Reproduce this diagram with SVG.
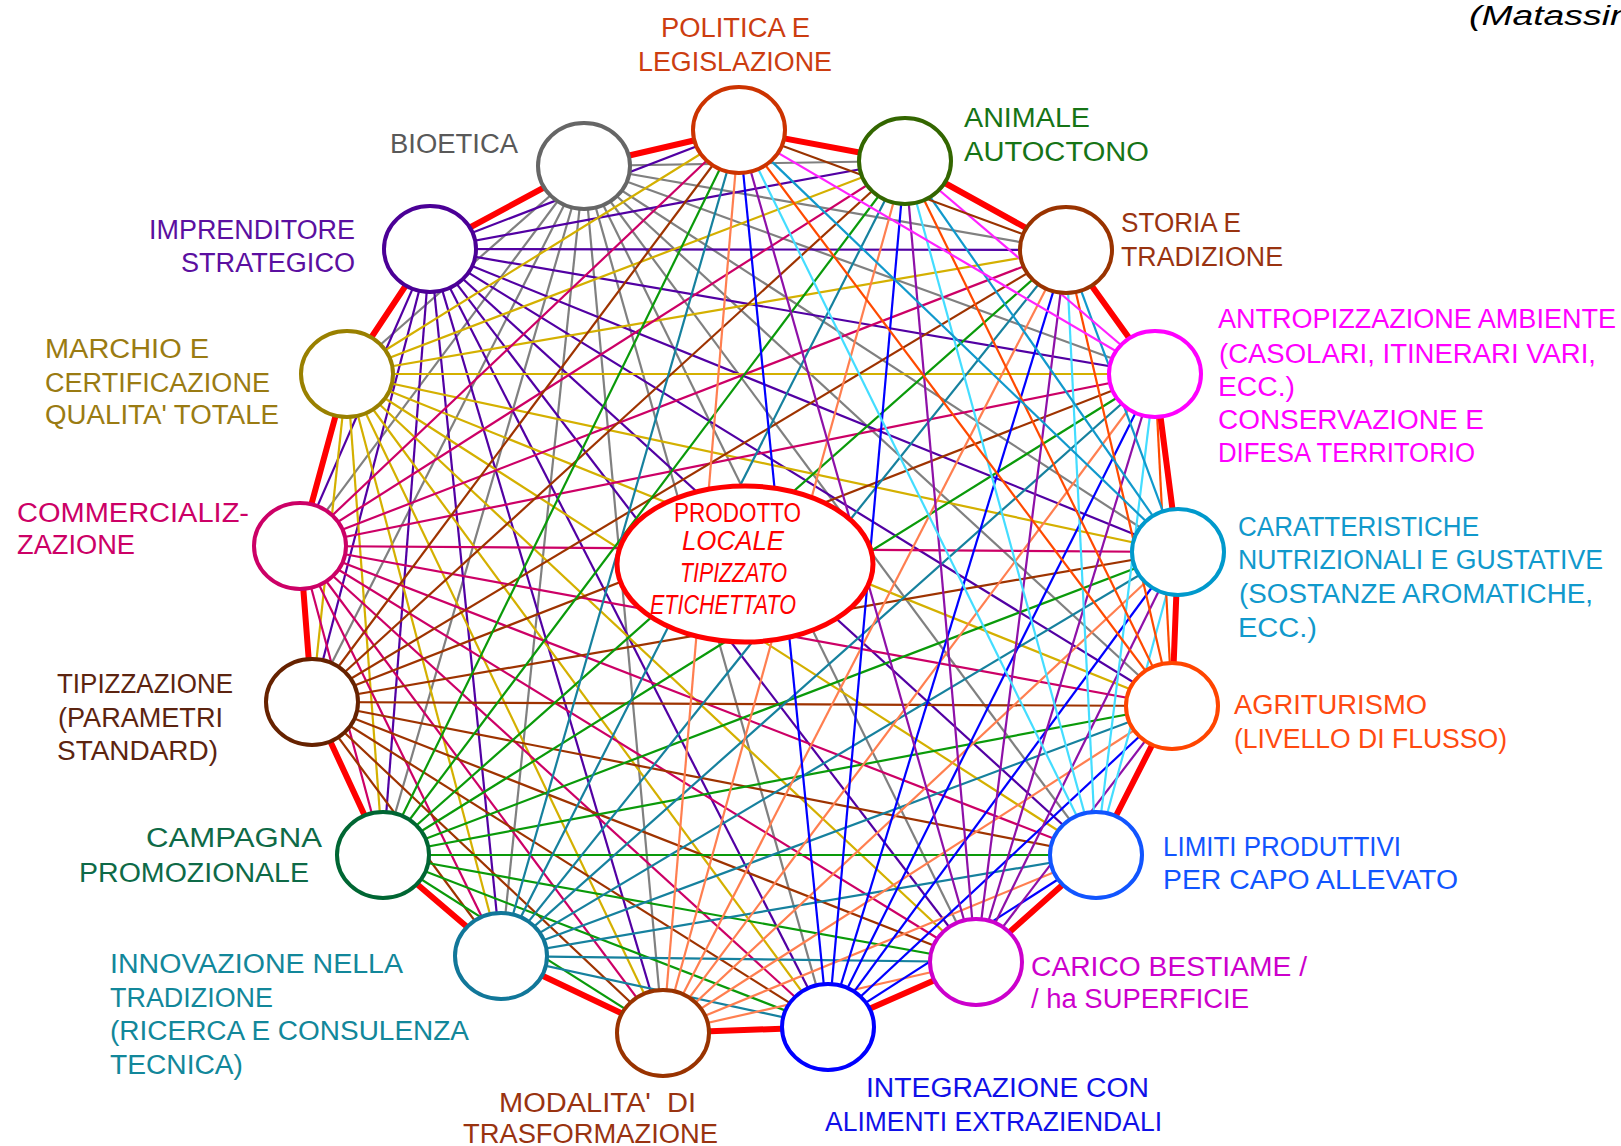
<svg xmlns="http://www.w3.org/2000/svg" width="1621" height="1146" viewBox="0 0 1621 1146">
<style>
text{font-family:"Liberation Sans","DejaVu Sans",sans-serif;font-size:27px;}
.c line{stroke-width:2.2;}
.g{stroke:#808080}.pu{stroke:#5200A3}.ye{stroke:#D4B000}.cr{stroke:#CC0066}.br{stroke:#9E3300}
.gr{stroke:#0A9A0A}.te{stroke:#16819E}.co{stroke:#FF7F50}.bl{stroke:#0000FF}.p2{stroke:#8E10A8}
.cy{stroke:#44DDFF}.or{stroke:#FF4A00}.tb{stroke:#1199CC}.mg{stroke:#FF22FF}.bs{stroke:#993300}
.node ellipse{fill:#fff;stroke-width:4;}
</style>
<rect width="1621" height="1146" fill="#fff"/>
<g id="connectors" class="c">
<line class="g" x1="584" y1="166" x2="347" y2="374"/>
<line class="g" x1="584" y1="166" x2="300" y2="546"/>
<line class="g" x1="584" y1="166" x2="312" y2="702"/>
<line class="g" x1="584" y1="166" x2="383" y2="855"/>
<line class="g" x1="584" y1="166" x2="501" y2="956"/>
<line class="g" x1="584" y1="166" x2="663" y2="1033"/>
<line class="g" x1="584" y1="166" x2="828" y2="1027"/>
<line class="g" x1="584" y1="166" x2="976" y2="962"/>
<line class="g" x1="584" y1="166" x2="1096" y2="855"/>
<line class="g" x1="584" y1="166" x2="1172" y2="706"/>
<line class="g" x1="584" y1="166" x2="1178" y2="552"/>
<line class="g" x1="584" y1="166" x2="1155" y2="374"/>
<line class="g" x1="584" y1="166" x2="1066" y2="250"/>
<line class="g" x1="584" y1="166" x2="905" y2="161"/>
<line class="pu" x1="430" y1="249" x2="300" y2="546"/>
<line class="pu" x1="430" y1="249" x2="312" y2="702"/>
<line class="pu" x1="430" y1="249" x2="383" y2="855"/>
<line class="pu" x1="430" y1="249" x2="501" y2="956"/>
<line class="pu" x1="430" y1="249" x2="663" y2="1033"/>
<line class="pu" x1="430" y1="249" x2="828" y2="1027"/>
<line class="pu" x1="430" y1="249" x2="976" y2="962"/>
<line class="pu" x1="430" y1="249" x2="1096" y2="855"/>
<line class="pu" x1="430" y1="249" x2="1172" y2="706"/>
<line class="pu" x1="430" y1="249" x2="1178" y2="552"/>
<line class="pu" x1="430" y1="249" x2="1155" y2="374"/>
<line class="pu" x1="430" y1="249" x2="1066" y2="250"/>
<line class="pu" x1="430" y1="249" x2="905" y2="161"/>
<line class="pu" x1="430" y1="249" x2="739" y2="130"/>
<line class="ye" x1="347" y1="374" x2="312" y2="702"/>
<line class="ye" x1="347" y1="374" x2="383" y2="855"/>
<line class="ye" x1="347" y1="374" x2="501" y2="956"/>
<line class="ye" x1="347" y1="374" x2="663" y2="1033"/>
<line class="ye" x1="347" y1="374" x2="828" y2="1027"/>
<line class="ye" x1="347" y1="374" x2="976" y2="962"/>
<line class="ye" x1="347" y1="374" x2="1096" y2="855"/>
<line class="ye" x1="347" y1="374" x2="1172" y2="706"/>
<line class="ye" x1="347" y1="374" x2="1178" y2="552"/>
<line class="ye" x1="347" y1="374" x2="1155" y2="374"/>
<line class="ye" x1="347" y1="374" x2="1066" y2="250"/>
<line class="ye" x1="347" y1="374" x2="905" y2="161"/>
<line class="ye" x1="347" y1="374" x2="739" y2="130"/>
<line class="cr" x1="300" y1="546" x2="383" y2="855"/>
<line class="cr" x1="300" y1="546" x2="501" y2="956"/>
<line class="cr" x1="300" y1="546" x2="663" y2="1033"/>
<line class="cr" x1="300" y1="546" x2="828" y2="1027"/>
<line class="cr" x1="300" y1="546" x2="976" y2="962"/>
<line class="cr" x1="300" y1="546" x2="1096" y2="855"/>
<line class="cr" x1="300" y1="546" x2="1172" y2="706"/>
<line class="cr" x1="300" y1="546" x2="1178" y2="552"/>
<line class="cr" x1="300" y1="546" x2="1155" y2="374"/>
<line class="cr" x1="300" y1="546" x2="1066" y2="250"/>
<line class="cr" x1="300" y1="546" x2="905" y2="161"/>
<line class="cr" x1="300" y1="546" x2="739" y2="130"/>
<line class="br" x1="312" y1="702" x2="501" y2="956"/>
<line class="br" x1="312" y1="702" x2="663" y2="1033"/>
<line class="br" x1="312" y1="702" x2="828" y2="1027"/>
<line class="br" x1="312" y1="702" x2="976" y2="962"/>
<line class="br" x1="312" y1="702" x2="1096" y2="855"/>
<line class="br" x1="312" y1="702" x2="1172" y2="706"/>
<line class="br" x1="312" y1="702" x2="1178" y2="552"/>
<line class="br" x1="312" y1="702" x2="1155" y2="374"/>
<line class="br" x1="312" y1="702" x2="1066" y2="250"/>
<line class="br" x1="312" y1="702" x2="905" y2="161"/>
<line class="br" x1="312" y1="702" x2="739" y2="130"/>
<line class="gr" x1="383" y1="855" x2="663" y2="1033"/>
<line class="gr" x1="383" y1="855" x2="828" y2="1027"/>
<line class="gr" x1="383" y1="855" x2="976" y2="962"/>
<line class="gr" x1="383" y1="855" x2="1096" y2="855"/>
<line class="gr" x1="383" y1="855" x2="1172" y2="706"/>
<line class="gr" x1="383" y1="855" x2="1178" y2="552"/>
<line class="gr" x1="383" y1="855" x2="1155" y2="374"/>
<line class="gr" x1="383" y1="855" x2="1066" y2="250"/>
<line class="gr" x1="383" y1="855" x2="905" y2="161"/>
<line class="gr" x1="383" y1="855" x2="739" y2="130"/>
<line class="te" x1="501" y1="956" x2="828" y2="1027"/>
<line class="te" x1="501" y1="956" x2="976" y2="962"/>
<line class="te" x1="501" y1="956" x2="1096" y2="855"/>
<line class="te" x1="501" y1="956" x2="1172" y2="706"/>
<line class="te" x1="501" y1="956" x2="1178" y2="552"/>
<line class="te" x1="501" y1="956" x2="1155" y2="374"/>
<line class="te" x1="501" y1="956" x2="1066" y2="250"/>
<line class="te" x1="501" y1="956" x2="905" y2="161"/>
<line class="te" x1="501" y1="956" x2="739" y2="130"/>
<line class="co" x1="663" y1="1033" x2="976" y2="962"/>
<line class="co" x1="663" y1="1033" x2="1096" y2="855"/>
<line class="co" x1="663" y1="1033" x2="1172" y2="706"/>
<line class="co" x1="663" y1="1033" x2="1178" y2="552"/>
<line class="co" x1="663" y1="1033" x2="1155" y2="374"/>
<line class="co" x1="663" y1="1033" x2="1066" y2="250"/>
<line class="co" x1="663" y1="1033" x2="905" y2="161"/>
<line class="co" x1="663" y1="1033" x2="739" y2="130"/>
<line class="bl" x1="828" y1="1027" x2="1096" y2="855"/>
<line class="bl" x1="828" y1="1027" x2="1172" y2="706"/>
<line class="bl" x1="828" y1="1027" x2="1178" y2="552"/>
<line class="bl" x1="828" y1="1027" x2="1155" y2="374"/>
<line class="bl" x1="828" y1="1027" x2="1066" y2="250"/>
<line class="bl" x1="828" y1="1027" x2="905" y2="161"/>
<line class="bl" x1="828" y1="1027" x2="739" y2="130"/>
<line class="p2" x1="976" y1="962" x2="1172" y2="706"/>
<line class="p2" x1="976" y1="962" x2="1178" y2="552"/>
<line class="p2" x1="976" y1="962" x2="1155" y2="374"/>
<line class="p2" x1="976" y1="962" x2="1066" y2="250"/>
<line class="p2" x1="976" y1="962" x2="905" y2="161"/>
<line class="p2" x1="976" y1="962" x2="739" y2="130"/>
<line class="cy" x1="1096" y1="855" x2="1178" y2="552"/>
<line class="cy" x1="1096" y1="855" x2="1155" y2="374"/>
<line class="cy" x1="1096" y1="855" x2="1066" y2="250"/>
<line class="cy" x1="1096" y1="855" x2="905" y2="161"/>
<line class="cy" x1="1096" y1="855" x2="739" y2="130"/>
<line class="or" x1="1172" y1="706" x2="1155" y2="374"/>
<line class="or" x1="1172" y1="706" x2="1066" y2="250"/>
<line class="or" x1="1172" y1="706" x2="905" y2="161"/>
<line class="or" x1="1172" y1="706" x2="739" y2="130"/>
<line class="tb" x1="1178" y1="552" x2="1066" y2="250"/>
<line class="tb" x1="1178" y1="552" x2="905" y2="161"/>
<line class="tb" x1="1178" y1="552" x2="739" y2="130"/>
<line class="mg" x1="1155" y1="374" x2="905" y2="161"/>
<line class="mg" x1="1155" y1="374" x2="739" y2="130"/>
<line class="bs" x1="1066" y1="250" x2="739" y2="130"/>
<polygon id="ring" points="584,166 430,249 347,374 300,546 312,702 383,855 501,956 663,1033 828,1027 976,962 1096,855 1172,706 1178,552 1155,374 1066,250 905,161 739,130" fill="none" stroke="#FF0000" stroke-width="6" stroke-linejoin="round"/>
</g>
<g id="center" class="node">
<ellipse cx="745" cy="564" rx="128" ry="78" stroke="#FF0000" style="stroke-width:5"/>
<text x="674" y="522" font-size="21" fill="#FF0000" textLength="127" lengthAdjust="spacingAndGlyphs">PRODOTTO</text>
<text x="682" y="550" font-size="23" font-style="italic" fill="#FF0000" textLength="102" lengthAdjust="spacingAndGlyphs">LOCALE</text>
<text x="680" y="582" font-size="23" font-style="italic" fill="#FF0000" textLength="107" lengthAdjust="spacingAndGlyphs">TIPIZZATO</text>
<text x="650" y="614" font-size="23" font-style="italic" fill="#FF0000" textLength="146" lengthAdjust="spacingAndGlyphs">ETICHETTATO</text>
</g>
<g id="n-politica" class="node">
<ellipse cx="739" cy="130" rx="46" ry="43" stroke="#CC3300"/>
<text x="661" y="37" fill="#CC3D10" textLength="149" lengthAdjust="spacingAndGlyphs">POLITICA E</text>
<text x="638" y="71" fill="#CC3D10" textLength="194" lengthAdjust="spacingAndGlyphs">LEGISLAZIONE</text>
</g>
<g id="n-animale" class="node">
<ellipse cx="905" cy="161" rx="46" ry="43" stroke="#336600"/>
<text x="964" y="127" fill="#167416" textLength="126" lengthAdjust="spacingAndGlyphs">ANIMALE</text>
<text x="964" y="161" fill="#167416" textLength="185" lengthAdjust="spacingAndGlyphs">AUTOCTONO</text>
</g>
<g id="n-storia" class="node">
<ellipse cx="1066" cy="250" rx="46" ry="43" stroke="#993300"/>
<text x="1121" y="232" fill="#993310" textLength="120" lengthAdjust="spacingAndGlyphs">STORIA E</text>
<text x="1121" y="266" fill="#993310" textLength="162" lengthAdjust="spacingAndGlyphs">TRADIZIONE</text>
</g>
<g id="n-antropizzazione" class="node">
<ellipse cx="1155" cy="374" rx="46" ry="43" stroke="#FF00FF"/>
<text x="1218" y="328" fill="#FF00FF" textLength="398" lengthAdjust="spacingAndGlyphs">ANTROPIZZAZIONE AMBIENTE</text>
<text x="1219" y="363" fill="#FF00FF" textLength="377" lengthAdjust="spacingAndGlyphs">(CASOLARI, ITINERARI VARI,</text>
<text x="1218" y="396" fill="#FF00FF" textLength="77" lengthAdjust="spacingAndGlyphs">ECC.)</text>
<text x="1218" y="429" fill="#FF00FF" textLength="266" lengthAdjust="spacingAndGlyphs">CONSERVAZIONE E</text>
<text x="1218" y="462" fill="#FF00FF" textLength="257" lengthAdjust="spacingAndGlyphs">DIFESA TERRITORIO</text>
</g>
<g id="n-caratteristiche" class="node">
<ellipse cx="1178" cy="552" rx="46" ry="43" stroke="#0099CC"/>
<text x="1238" y="536" fill="#1199CC" textLength="241" lengthAdjust="spacingAndGlyphs">CARATTERISTICHE</text>
<text x="1238" y="569" fill="#1199CC" textLength="365" lengthAdjust="spacingAndGlyphs">NUTRIZIONALI E GUSTATIVE</text>
<text x="1239" y="603" fill="#1199CC" textLength="354" lengthAdjust="spacingAndGlyphs">(SOSTANZE AROMATICHE,</text>
<text x="1238" y="637" fill="#1199CC" textLength="79" lengthAdjust="spacingAndGlyphs">ECC.)</text>
</g>
<g id="n-agriturismo" class="node">
<ellipse cx="1172" cy="706" rx="46" ry="43" stroke="#FF4500"/>
<text x="1234" y="714" fill="#FF4A10" textLength="193" lengthAdjust="spacingAndGlyphs">AGRITURISMO</text>
<text x="1234" y="748" fill="#FF4A10" textLength="273" lengthAdjust="spacingAndGlyphs">(LIVELLO DI FLUSSO)</text>
</g>
<g id="n-limiti" class="node">
<ellipse cx="1096" cy="855" rx="46" ry="43" stroke="#1155FF"/>
<text x="1163" y="856" fill="#1155FF" textLength="238" lengthAdjust="spacingAndGlyphs">LIMITI PRODUTTIVI</text>
<text x="1163" y="889" fill="#1155FF" textLength="295" lengthAdjust="spacingAndGlyphs">PER CAPO ALLEVATO</text>
</g>
<g id="n-carico" class="node">
<ellipse cx="976" cy="962" rx="46" ry="43" stroke="#CC00CC"/>
<text x="1031" y="976" fill="#CC00CC" textLength="276" lengthAdjust="spacingAndGlyphs">CARICO BESTIAME /</text>
<text x="1031" y="1008" fill="#CC00CC" textLength="218" lengthAdjust="spacingAndGlyphs">/ ha SUPERFICIE</text>
</g>
<g id="n-integrazione" class="node">
<ellipse cx="828" cy="1027" rx="46" ry="43" stroke="#0000FF"/>
<text x="866" y="1097" fill="#1010E8" textLength="283" lengthAdjust="spacingAndGlyphs">INTEGRAZIONE CON</text>
<text x="825" y="1131" fill="#1010E8" textLength="337" lengthAdjust="spacingAndGlyphs">ALIMENTI EXTRAZIENDALI</text>
</g>
<g id="n-modalita" class="node">
<ellipse cx="663" cy="1033" rx="46" ry="43" stroke="#993300"/>
<text x="499" y="1112" fill="#993310" textLength="197" lengthAdjust="spacingAndGlyphs" xml:space="preserve">MODALITA'  DI</text>
<text x="463" y="1143" fill="#993310" textLength="255" lengthAdjust="spacingAndGlyphs">TRASFORMAZIONE</text>
</g>
<g id="n-innovazione" class="node">
<ellipse cx="501" cy="956" rx="46" ry="43" stroke="#117799"/>
<text x="110" y="973" fill="#12879A" textLength="293" lengthAdjust="spacingAndGlyphs">INNOVAZIONE NELLA</text>
<text x="110" y="1007" fill="#12879A" textLength="163" lengthAdjust="spacingAndGlyphs">TRADIZIONE</text>
<text x="110" y="1040" fill="#12879A" textLength="359" lengthAdjust="spacingAndGlyphs">(RICERCA E CONSULENZA</text>
<text x="110" y="1074" fill="#12879A" textLength="133" lengthAdjust="spacingAndGlyphs">TECNICA)</text>
</g>
<g id="n-campagna" class="node">
<ellipse cx="383" cy="855" rx="46" ry="43" stroke="#006633"/>
<text x="146" y="847" fill="#0E6A47" textLength="176" lengthAdjust="spacingAndGlyphs">CAMPAGNA</text>
<text x="79" y="882" fill="#0E6A47" textLength="230" lengthAdjust="spacingAndGlyphs">PROMOZIONALE</text>
</g>
<g id="n-tipizzazione" class="node">
<ellipse cx="312" cy="702" rx="46" ry="43" stroke="#662200"/>
<text x="57" y="693" fill="#5C2410" textLength="176" lengthAdjust="spacingAndGlyphs">TIPIZZAZIONE</text>
<text x="58" y="727" fill="#5C2410" textLength="165" lengthAdjust="spacingAndGlyphs">(PARAMETRI</text>
<text x="57" y="760" fill="#5C2410" textLength="161" lengthAdjust="spacingAndGlyphs">STANDARD)</text>
</g>
<g id="n-commercializzazione" class="node">
<ellipse cx="300" cy="546" rx="46" ry="43" stroke="#CC0066"/>
<text x="17" y="522" fill="#CC0066" textLength="232" lengthAdjust="spacingAndGlyphs">COMMERCIALIZ-</text>
<text x="17" y="554" fill="#CC0066" textLength="118" lengthAdjust="spacingAndGlyphs">ZAZIONE</text>
</g>
<g id="n-marchio" class="node">
<ellipse cx="347" cy="374" rx="46" ry="43" stroke="#998000"/>
<text x="45" y="358" fill="#9A7B12" textLength="164" lengthAdjust="spacingAndGlyphs">MARCHIO E</text>
<text x="45" y="392" fill="#9A7B12" textLength="225" lengthAdjust="spacingAndGlyphs">CERTIFICAZIONE</text>
<text x="45" y="424" fill="#9A7B12" textLength="234" lengthAdjust="spacingAndGlyphs">QUALITA' TOTALE</text>
</g>
<g id="n-imprenditore" class="node">
<ellipse cx="430" cy="249" rx="46" ry="43" stroke="#4B0096"/>
<text x="149" y="239" fill="#5B0FA0" textLength="206" lengthAdjust="spacingAndGlyphs">IMPRENDITORE</text>
<text x="181" y="272" fill="#5B0FA0" textLength="174" lengthAdjust="spacingAndGlyphs">STRATEGICO</text>
</g>
<g id="n-bioetica" class="node">
<ellipse cx="584" cy="166" rx="46" ry="43" stroke="#666666"/>
<text x="390" y="153" fill="#595959" textLength="128" lengthAdjust="spacingAndGlyphs">BIOETICA</text>
</g>
<text x="1469" y="25" font-size="32" font-style="italic" fill="#000" textLength="170" lengthAdjust="spacingAndGlyphs">(Matassini</text>
</svg>
